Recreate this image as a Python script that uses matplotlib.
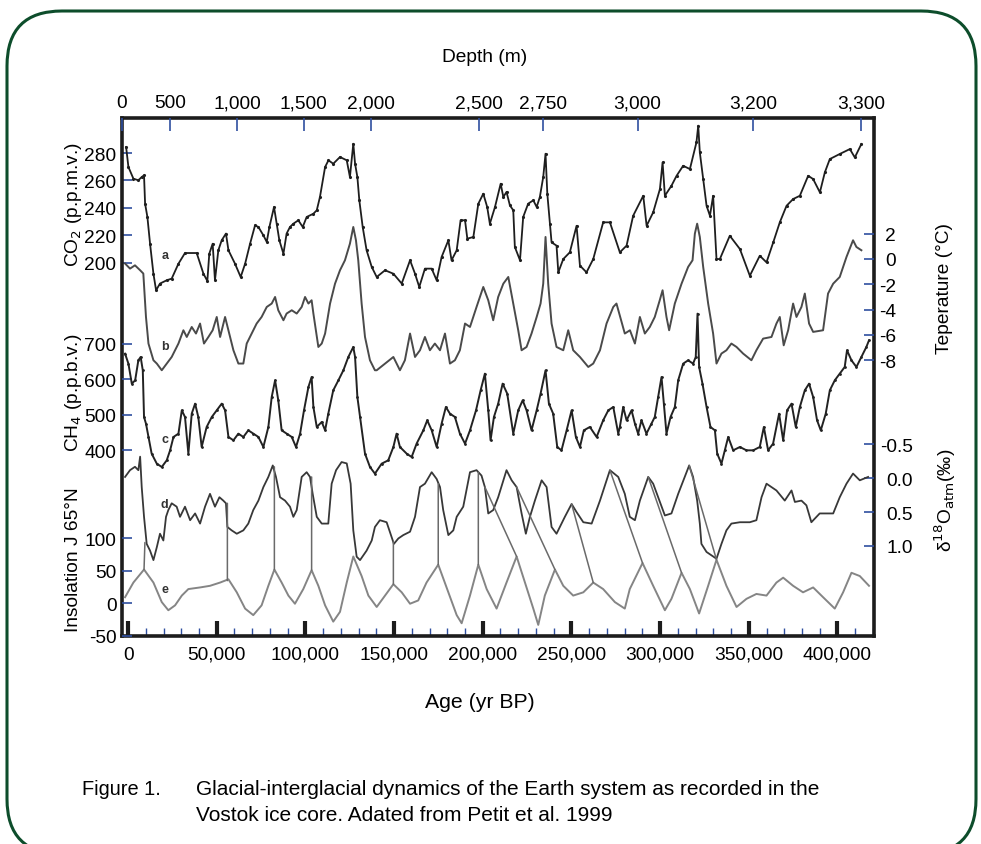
import numpy as np
import matplotlib.pyplot as plt
from matplotlib.patches import FancyBboxPatch, ConnectionPatch
from matplotlib.ticker import FuncFormatter, MultipleLocator

plt.rcParams['font.family'] = ['Liberation Sans', 'DejaVu Sans']
plt.rcParams['axes.unicode_minus'] = False

# ---- data (age in kyr BP) ----
co2_age = [-1.1, 0.2, 3.0, 5.8, 7.7, 9.0, 9.6, 10.9, 12.4, 14.3,
           15.8, 18.0, 21.8, 24.6, 28.4, 32.1, 38.7, 42.5, 44.7, 45.8,
           47.7, 49.0, 50.9, 52.8, 55.2, 56.6, 60.3, 63.5, 66.0, 68.8,
           71.6, 73.5, 76.3, 78.2, 79.7, 82.3, 83.8, 85.3, 87.6, 89.4,
           91.3, 93.2, 96.0, 98.5, 100.7, 104.5, 106.4, 108.2, 111.1, 113.0,
           115.7, 119.5, 123.3, 125.1, 127.0, 128.0, 129.3, 130.4, 132.3, 134.5,
           137.4, 140.2, 144.9, 149.6, 154.3, 159.0, 161.8, 164.2, 167.4, 171.2,
           174.0, 176.8, 180.6, 182.4, 185.3, 187.5, 190.0, 191.3, 194.7, 197.5,
           200.3, 202.5, 204.0, 206.9, 210.1, 211.6, 213.4, 215.3, 217.2, 218.1,
           221.0, 222.8, 225.6, 228.5, 230.4, 232.2, 234.1, 235.4, 236.4, 237.9,
           238.8, 241.6, 242.6, 245.4, 249.1, 252.9, 254.8, 258.5, 262.3, 267.9,
           271.7, 277.3, 281.1, 284.8, 290.5, 292.4, 296.1, 299.9, 301.4, 302.7,
           306.4, 309.3, 313.0, 316.8, 320.5, 321.5, 322.4, 324.3, 326.2, 328.1,
           329.9, 331.8, 333.7, 339.3, 345.0, 350.6, 356.2, 360.0, 363.8, 367.5,
           371.3, 375.0, 378.8, 383.5, 386.3, 390.1, 392.9, 395.7, 401.3, 407.0,
           409.8, 413.5]
co2_ppmv = [284.4, 269.8, 261.3, 260.1, 262.5, 263.7, 243.0, 233.3, 213.8, 191.9,
            179.8, 184.7, 187.1, 188.3, 199.2, 207.0, 207.0, 191.9, 186.6, 206.5,
            213.8, 187.1, 209.0, 216.3, 221.2, 209.0, 199.2, 189.5, 199.2, 213.8,
            227.2, 226.0, 219.9, 215.1, 226.0, 240.6, 228.4, 216.3, 206.5, 221.2,
            226.0, 228.4, 230.9, 226.0, 233.3, 235.7, 238.2, 247.9, 269.8, 274.7,
            272.2, 277.1, 274.7, 262.5, 286.8, 272.2, 262.5, 245.5, 226.0, 209.0,
            196.8, 189.5, 194.4, 191.9, 184.7, 201.7, 191.9, 182.2, 195.6, 195.6,
            187.1, 204.1, 216.3, 201.7, 209.0, 230.9, 230.9, 217.5, 218.7, 243.0,
            250.3, 240.6, 228.4, 240.6, 257.6, 247.9, 251.6, 241.8, 238.2, 211.4,
            201.7, 233.3, 243.0, 245.5, 240.6, 247.9, 262.5, 279.5, 250.3, 228.4,
            214.8, 212.4, 192.9, 202.6, 207.5, 226.9, 197.8, 192.9, 202.6, 229.4,
            229.4, 207.5, 212.4, 234.2, 248.8, 226.9, 236.7, 253.7, 273.2, 248.8,
            256.1, 263.4, 270.7, 268.3, 287.8, 300.0, 280.5, 261.0, 241.5, 234.2,
            248.8, 202.6, 202.6, 219.6, 209.9, 190.4, 205.0, 200.2, 214.8, 229.4,
            241.5, 246.4, 248.8, 263.4, 261.0, 251.3, 265.9, 275.6, 279.3, 282.9,
            276.8, 286.6]

temp_age = [-1.7, 1.1, 3.9, 6.8, 8.6, 10.1, 11.5, 14.3, 16.2, 19.0,
            21.8, 24.6, 26.5, 28.4, 31.2, 33.1, 35.9, 38.3, 40.6, 42.8,
            45.3, 47.7, 50.0, 51.9, 54.7, 56.6, 59.4, 62.2, 65.0, 66.9,
            69.7, 72.5, 75.3, 78.2, 81.0, 82.9, 84.7, 87.6, 89.4, 92.3,
            95.1, 97.9, 99.8, 101.7, 103.5, 104.5, 107.3, 109.2, 111.1, 113.9,
            116.7, 119.5, 122.3, 125.1, 127.0, 128.5, 129.8, 131.7, 133.6, 136.4,
            139.2, 140.2, 144.9, 149.6, 153.3, 156.1, 159.0, 161.8, 164.6, 167.4,
            170.2, 173.0, 175.9, 178.7, 181.5, 184.3, 187.1, 190.0, 192.8, 196.5,
            200.3, 203.1, 205.9, 208.7, 211.6, 214.4, 217.2, 220.0, 221.9, 224.7,
            227.5, 230.4, 232.6, 234.1, 235.4, 236.9, 238.8, 241.6, 245.4, 248.2,
            251.0, 254.8, 259.5, 262.3, 266.1, 269.8, 273.6, 275.4, 280.1, 283.0,
            285.8, 288.6, 291.4, 294.2, 297.0, 299.8, 301.4, 303.6, 305.1, 308.3,
            312.1, 315.8, 318.3, 319.6, 320.9, 322.4, 324.3, 327.1, 329.9, 331.8,
            334.6, 337.4, 340.2, 343.1, 346.8, 351.5, 354.3, 358.1, 362.8, 365.6,
            367.5, 369.7, 372.2, 375.0, 376.9, 379.7, 381.6, 384.0, 386.3, 391.9,
            394.7, 397.6, 401.3, 405.1, 408.8, 410.7, 413.5]
temp_c = [-0.36, -0.76, -0.50, -0.89, -1.15, -4.58, -6.68, -8.0, -8.26, -8.79,
          -8.26, -7.74, -7.21, -6.68, -5.63, -6.16, -5.37, -5.89, -5.10, -6.68,
          -6.16, -5.63, -4.58, -6.16, -4.58, -5.63, -7.21, -8.26, -8.26, -6.68,
          -5.89, -5.10, -4.58, -3.79, -3.52, -3.0, -4.05, -4.84, -4.31, -4.05,
          -4.31, -3.79, -3.0, -3.52, -3.26, -4.31, -6.95, -6.68, -5.89, -3.52,
          -1.95, -0.89, -0.10, 1.21, 2.53, 1.48, -0.10, -3.52, -6.16, -8.0,
          -8.79, -8.79, -8.26, -7.74, -8.79, -8.0, -5.89, -7.74, -7.21, -6.16,
          -7.21, -6.68, -7.21, -5.89, -8.26, -8.0, -7.21, -5.10, -5.37, -3.79,
          -2.21, -3.26, -4.84, -3.0, -1.95, -1.42, -3.52, -5.63, -7.21, -6.95,
          -5.89, -4.58, -3.52, -1.95, 1.74, -1.95, -5.10, -6.95, -7.21, -5.63,
          -7.21, -7.74, -8.53, -8.26, -7.21, -5.10, -3.79, -3.52, -5.89, -5.63,
          -6.68, -4.58, -5.89, -5.37, -4.58, -3.26, -2.47, -4.58, -5.63, -3.52,
          -1.95, -0.63, -0.10, 2.0, 2.79, 1.74, -0.63, -3.52, -5.89, -8.26,
          -7.47, -7.21, -6.68, -6.95, -7.47, -8.0, -7.21, -6.29, -6.16, -5.10,
          -4.58, -6.82, -5.63, -3.52, -4.58, -3.79, -2.73, -5.10, -5.76, -5.63,
          -2.73, -1.95, -1.42, 0.16, 1.48, 0.95, 0.69]

ch4_age = [-1.7, 0.2, 2.1, 4.0, 5.8, 7.1, 8.3, 9.0, 10.1, 11.5,
           13.3, 16.2, 19.0, 21.8, 23.7, 25.6, 28.4, 30.3, 32.1, 34.0,
           35.9, 37.8, 39.6, 41.5, 44.3, 47.2, 50.0, 52.8, 54.7, 56.6,
           59.4, 62.2, 65.0, 67.8, 70.6, 73.5, 76.3, 79.1, 81.0, 82.9,
           84.7, 86.6, 89.4, 92.3, 94.7, 97.0, 99.2, 101.7, 103.5, 104.5,
           106.4, 109.2, 111.1, 112.9, 115.7, 118.6, 121.4, 124.2, 127.0, 128.0,
           129.3, 130.8, 133.6, 136.4, 139.2, 143.0, 146.7, 149.6, 151.4, 153.3,
           157.1, 159.9, 162.7, 166.5, 168.7, 171.2, 174.0, 176.8, 179.2, 181.5,
           184.3, 187.1, 190.0, 192.8, 196.2, 198.8, 201.2, 203.1, 204.4, 206.3,
           208.7, 211.2, 213.8, 217.2, 220.0, 222.5, 224.7, 227.5, 230.4, 232.6,
           235.4, 237.3, 239.7, 242.0, 244.4, 247.3, 250.1, 252.5, 254.8, 257.0,
           260.4, 264.2, 267.9, 270.8, 273.6, 276.4, 277.3, 279.2, 281.1, 283.9,
           285.8, 287.6, 289.5, 292.3, 295.1, 297.0, 298.9, 300.8, 302.1, 303.6,
           305.9, 308.3, 310.2, 313.0, 315.8, 318.6, 320.1, 321.1, 322.0, 323.9,
           326.2, 328.4, 330.9, 332.2, 334.6, 336.5, 338.4, 341.2, 345.0, 348.7,
           352.5, 356.2, 358.5, 360.9, 363.7, 367.1, 369.4, 371.6, 374.1, 376.5,
           378.8, 381.6, 384.0, 386.3, 388.5, 390.6, 393.4, 395.7, 398.5, 401.3,
           404.1, 405.4, 407.9, 410.7, 413.5, 416.3, 417.8]
ch4_ppbv = [672.7, 644.5, 588.1, 597.5, 653.9, 663.3, 625.7, 494.1, 475.3, 437.7,
            390.7, 362.5, 353.1, 371.9, 400.1, 437.7, 447.1, 512.9, 494.1, 390.7,
            503.5, 531.7, 494.1, 409.5, 465.9, 494.1, 512.9, 531.7, 512.9, 437.7,
            428.3, 447.1, 437.7, 456.5, 447.1, 437.7, 409.5, 465.9, 550.5, 597.5,
            541.1, 456.5, 447.1, 437.7, 409.5, 447.1, 512.9, 578.7, 606.9, 522.3,
            465.9, 480.0, 456.5, 503.5, 569.3, 597.5, 625.7, 663.3, 691.5, 663.3,
            550.5, 494.1, 390.7, 353.1, 334.3, 362.5, 371.9, 409.5, 447.1, 409.5,
            390.7, 381.3, 418.9, 456.5, 484.7, 456.5, 409.5, 475.3, 522.3, 503.5,
            494.1, 447.1, 418.9, 456.5, 512.9, 569.3, 616.3, 512.9, 428.3, 494.1,
            531.7, 588.1, 559.9, 447.1, 512.9, 541.1, 512.9, 456.5, 512.9, 559.9,
            625.7, 531.7, 503.5, 409.5, 400.1, 456.5, 512.9, 437.7, 409.5, 456.5,
            465.9, 437.7, 484.7, 512.9, 522.3, 447.1, 465.9, 522.3, 484.7, 512.9,
            475.3, 447.1, 484.7, 447.1, 475.3, 494.1, 550.5, 606.9, 531.7, 447.1,
            494.1, 522.3, 597.5, 644.5, 653.9, 644.5, 663.3, 785.5, 635.1, 588.1,
            522.3, 465.9, 456.5, 390.7, 362.5, 400.1, 437.7, 400.1, 409.5, 400.1,
            400.1, 409.5, 465.9, 400.1, 418.9, 503.5, 428.3, 512.9, 531.7, 465.9,
            522.3, 569.3, 588.1, 550.5, 484.7, 456.5, 503.5, 569.3, 597.5, 616.3,
            635.1, 682.1, 653.9, 635.1, 663.3, 691.5, 710.3]

d18o_age = [-1.7, 1.1, 3.9, 5.8, 6.8, 7.7, 9.0, 10.5, 12.4, 14.3,
            16.2, 18.0, 19.9, 21.4, 22.7, 24.6, 27.4, 29.3, 32.1, 35.0,
            37.8, 40.6, 43.4, 46.2, 49.0, 51.5, 53.7, 55.2, 56.0, 58.4,
            61.3, 65.0, 67.8, 70.6, 73.5, 76.3, 79.1, 81.6, 83.4, 85.7,
            88.5, 91.3, 93.2, 95.1, 97.9, 100.7, 102.6, 104.1, 106.4, 109.2,
            112.9, 114.8, 117.3, 120.4, 123.3, 125.5, 127.0, 128.9, 130.8, 134.5,
            137.4, 139.2, 142.0, 145.8, 149.9, 152.4, 155.2, 159.0, 161.8, 164.6,
            167.4, 171.2, 174.0, 175.9, 177.7, 180.6, 183.4, 185.3, 189.0, 192.8,
            196.5, 199.3, 201.2, 203.1, 205.9, 208.7, 213.4, 216.3, 219.1, 221.9,
            224.3, 226.6, 229.4, 233.2, 236.0, 238.8, 241.6, 246.3, 250.1, 252.9,
            256.7, 261.4, 266.1, 271.7, 276.4, 280.1, 282.9, 285.8, 288.6, 293.3,
            296.1, 298.9, 302.7, 306.4, 310.2, 313.9, 316.4, 318.6, 320.9, 322.4,
            323.3, 326.2, 331.8, 334.6, 337.4, 340.2, 345.0, 350.6, 354.3, 357.2,
            360.0, 365.6, 370.3, 374.1, 376.0, 379.7, 382.5, 385.3, 390.0, 397.6,
            401.3, 405.1, 408.8, 412.6, 417.3]
d18o_permil = [-0.02, -0.12, -0.17, -0.12, -0.32, 0.13, 0.57, 0.97, 1.07, 1.21,
               1.02, 0.82, 0.92, 0.57, 0.47, 0.37, 0.42, 0.57, 0.42, 0.62,
               0.52, 0.67, 0.42, 0.23, 0.42, 0.28, 0.33, 0.37, 0.72, 0.77,
               0.82, 0.77, 0.67, 0.47, 0.33, 0.13, -0.02, -0.19, -0.02, 0.28,
               0.33, 0.42, 0.57, 0.47, -0.02, -0.09, -0.02, 0.23, 0.57, 0.67,
               0.67, 0.08, -0.12, -0.24, -0.22, 0.08, 0.77, 1.16, 1.21, 1.07,
               0.92, 0.72, 0.62, 0.65, 0.97, 0.89, 0.84, 0.79, 0.57, 0.13,
               0.08, -0.09, 0.01, 0.13, 0.47, 0.84, 0.77, 0.57, 0.42, -0.09,
               -0.12, -0.04, 0.13, 0.52, 0.47, 0.28, -0.12, 0.03, 0.13, 0.52,
               0.82, 0.57, 0.33, 0.03, 0.13, 0.72, 0.82, 0.57, 0.38, 0.50,
               0.65, 0.67, 0.33, -0.12, -0.02, 0.23, 0.57, 0.62, 0.33, -0.02,
               0.08, 0.28, 0.55, 0.52, 0.23, -0.02, -0.19, -0.02, 0.33, 0.67,
               0.97, 1.09, 1.19, 0.97, 0.77, 0.67, 0.65, 0.65, 0.62, 0.28,
               0.08, 0.18, 0.33, 0.18, 0.35, 0.33, 0.40, 0.65, 0.52, 0.52,
               0.28, 0.08, -0.07, 0.03, -0.02]

insol_age = [-1.7, 3.0, 9.0, 14.3, 19.0, 22.7, 26.5, 30.3, 34.0, 40.6,
             46.2, 51.9, 56.6, 61.3, 66.0, 70.6, 75.3, 79.1, 82.5, 86.6,
             90.4, 94.1, 98.8, 103.5, 107.3, 111.1, 115.7, 119.5, 123.3, 127.0,
             131.7, 135.5, 140.2, 144.9, 149.6, 154.3, 159.0, 163.6, 168.3, 174.9,
             180.6, 185.3, 188.1, 192.8, 197.5, 202.2, 207.8, 213.4, 219.1, 223.8,
             228.5, 231.3, 235.0, 240.7, 245.4, 251.0, 256.7, 262.3, 267.9, 274.5,
             280.1, 282.9, 290.1, 296.1, 302.7, 306.4, 312.1, 316.8, 322.0, 327.1,
             331.8, 337.4, 343.1, 348.7, 354.3, 360.0, 365.6, 369.4, 375.0, 380.6,
             386.3, 391.9, 398.5, 403.2, 407.9, 412.6, 417.8]
insol_wm2 = [9.5, 32, 52, 32, 2, -10.5, -3, 12, 22, 24.5,
             27, 32, 37, 17, -8, -18, -3, 27, 52, 32,
             12, -0.5, 22, 51, 27, -3, -28, -13, 32, 72,
             42, 12, -5.5, 12, 29.5, 17, -0.5, 4.5, 32, 59.5,
             17, -18, -30.5, 12, 59.5, 22, -8, 32, 72, 32,
             -8, -33, 12, 52, 27, 12, 17, 32, 22, 2,
             -8, 22, 62, 27, -10.5, 7, 47, 22, -15.5, 27,
             67, 27, -5.5, 7, 14.5, 12, 32, 39.5, 27, 17,
             24.5, 9.5, -8, 17, 47, 42, 27]

# tie lines between the d18O curve and the insolation curve
tie_d_age = [9.5, 56.0, 82.5, 103.5, 149.6, 174.9, 197.5, 201.2, 219.1, 250.1, 271.7, 293.3, 316.4]
tie_d_val = [0.95, 0.37, -0.17, -0.02, 0.94, 0.08, -0.09, 0.13, 0.13, 0.38, -0.12, -0.02, -0.19]
tie_e_age = [9.0, 56.0, 82.5, 103.5, 149.6, 174.9, 197.5, 219.1, 240.7, 262.3, 290.1, 312.1, 331.8]
tie_e_val = [52, 35, 52, 51, 29.5, 59.5, 59.5, 72, 52, 32, 62, 47, 67]

depth_m = [0, 500, 1000, 1500, 2000, 2500, 2750, 3000, 3200, 3300]
depth_at_age = [-3.4, 23.8, 61.4, 99.0, 136.8, 197.9, 233.8, 287.3, 352.3, 413.2]

BLUE = '#2f4f9f'
INK = '#1c1c1c'
FS = 13.8

fig = plt.figure(figsize=(9.81, 8.45), dpi=100)
ax = fig.add_axes([0.1244, 0.2462, 0.7665, 0.6130])

# rounded frame
frame = FancyBboxPatch((0.07, -0.10), 9.69, 8.43, boxstyle="round,pad=0,rounding_size=0.55",
                       transform=fig.dpi_scale_trans, fill=False, edgecolor='#0d4d2b',
                       linewidth=2.2, clip_on=False)
fig.patches.append(frame)

ax.set_xlim(-3.4, 420.6)
for s in ax.spines.values():
    s.set_linewidth(2.6)
    s.set_color(INK)
ax.xaxis.set_major_locator(MultipleLocator(50))
ax.xaxis.set_minor_locator(MultipleLocator(10))
ax.xaxis.set_major_formatter(FuncFormatter(lambda v, p: f"{int(round(v * 1000)):,}"))
ax.tick_params(axis='x', which='major', direction='in', length=11, width=3, color=INK,
               labelsize=FS, pad=7)
ax.tick_params(axis='x', which='minor', direction='in', length=5.5, width=1, color=BLUE)
ax.tick_params(axis='x', which='both', top=False)

# top depth axis
axt = ax.twiny()
axt.set_xlim(ax.get_xlim())
axt.set_xticks(depth_at_age)
axt.set_xticklabels([f"{d:,}" for d in depth_m])
axt.tick_params(axis='x', direction='in', length=9, width=1.2, color=BLUE, labelsize=FS, pad=5)
for s in axt.spines.values():
    s.set_visible(False)


def band(a, lim, ticks, side, pad=4):
    a.set_ylim(*lim)
    a.set_yticks(ticks)
    if side == 'left':
        a.yaxis.tick_left()
    else:
        a.yaxis.tick_right()
    a.tick_params(axis='y', direction='in', length=7, width=1.2, color=BLUE,
                  labelsize=FS, pad=pad)
    return a


def twin():
    t = ax.twinx()
    for s in t.spines.values():
        s.set_visible(False)
    return t


# CO2 on main axes, the other records on twins sharing the age axis
band(ax, (-72.6, 305.6), [200, 220, 240, 260, 280], 'left')
ax_t = band(twin(), (-29.78, 11.14), [2, 0, -2, -4, -6, -8], 'right', pad=16)
ax_m = band(twin(), (-123.4, 1337.3), [400, 500, 600, 700], 'left')
ax_d = band(twin(), (2.332, -5.329), [-0.5, 0.0, 0.5, 1.0], 'right', pad=28)
ax_d.yaxis.set_major_formatter(FuncFormatter(lambda v, p: f"{v:.1f}"))
ax_i = band(twin(), (-50, 745.3), [-50, 0, 50, 100], 'left')
for a in (ax_t, ax_d):
    for lab in a.get_yticklabels():
        lab.set_horizontalalignment('right')

ax.plot(co2_age, co2_ppmv, color='#1e1e1e', lw=1.3, marker='.', ms=2.5)
ax_t.plot(temp_age, temp_c, color='#4a4a4a', lw=1.4)
ax_m.plot(ch4_age, ch4_ppbv, color='#222222', lw=1.4, marker='.', ms=2)
ax_d.plot(d18o_age, d18o_permil, color='#383838', lw=1.3)
ax_i.plot(insol_age, insol_wm2, color='#858585', lw=1.4)

for xa, ya, xb, yb in zip(tie_d_age, tie_d_val, tie_e_age, tie_e_val):
    con = ConnectionPatch(xyA=(xa, ya), coordsA=ax_d.transData,
                          xyB=(xb, yb), coordsB=ax_i.transData,
                          color='#6a6a6a', lw=1.1)
    fig.add_artist(con)

# curve letters
for letter, (xa, ya) in zip('abcde', [(0.057, 0.735), (0.057, 0.56), (0.057, 0.38),
                                       (0.056, 0.255), (0.057, 0.09)]):
    ax.text(xa, ya, letter, transform=ax.transAxes, fontsize=9, fontweight='bold',
            color='#333333', ha='center', va='center')

# axis titles
fig.text(0.0745, 0.758, 'CO$_2$ (p.p.m.v.)', rotation=90, ha='center', va='center', fontsize=FS)
fig.text(0.0745, 0.535, 'CH$_4$ (p.p.b.v.)', rotation=90, ha='center', va='center', fontsize=FS)
fig.text(0.0745, 0.338, 'Insolation J 65°N', rotation=90, ha='center', va='center', fontsize=FS)
fig.text(0.9633, 0.659, 'Teperature (°C)', rotation=90, ha='center', va='center', fontsize=FS)
fig.text(0.9633, 0.408, 'δ$^{18}$O$_{\\mathrm{atm}}$(‰)', rotation=90, ha='center',
         va='center', fontsize=FS)
fig.text(0.4893, 0.169, 'Age (yr BP)', ha='center', va='center', fontsize=15.3)
fig.text(0.4944, 0.9314, 'Depth (m)', ha='center', va='center', fontsize=FS)

fig.text(0.0836, 0.066, 'Figure 1.', ha='left', va='center', fontsize=14.4)
fig.text(0.1998, 0.066, 'Glacial-interglacial dynamics of the Earth system as recorded in the',
         ha='left', va='center', fontsize=15)
fig.text(0.1998, 0.0355, 'Vostok ice core. Adated from Petit et al. 1999',
         ha='left', va='center', fontsize=15)

fig.savefig('out.png', dpi=100)
